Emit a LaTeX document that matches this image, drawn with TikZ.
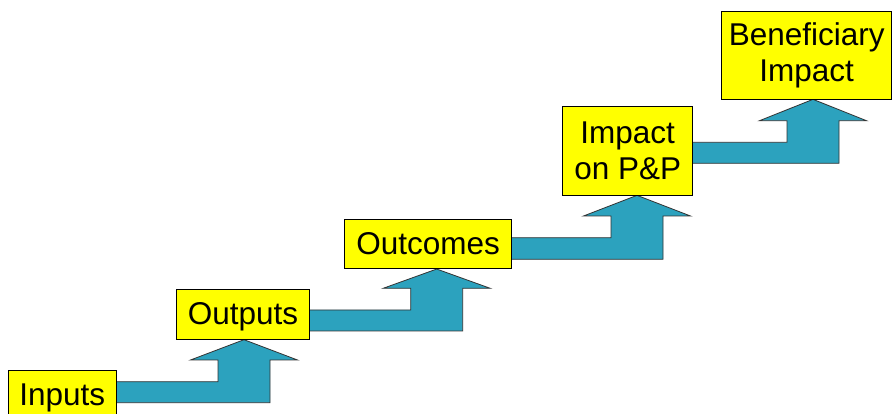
\documentclass[tikz,border=0pt]{standalone}
\usepackage{fontspec}
\setmainfont{Liberation Sans}
\usetikzlibrary{backgrounds,calc}
\definecolor{stairblue}{RGB}{44,162,190}
\definecolor{stageyellow}{RGB}{255,255,0}
\tikzset{
  stage/.style={draw=black, fill=stageyellow, line width=0.8pt, inner sep=0pt,
    align=center, font=\fontsize{31.5}{36.8}\selectfont},
  oneline/.style={text height=23pt, text depth=1.9pt},
  stairarrow/.style={draw=black!80, fill=stairblue, line width=0.8pt, line join=miter}
}
% #1 lower stage, #2 upper stage, #3 shaft centre x, #4 bar top y, #5 bar bottom y, #6 barb y
\newcommand\stairstep[6]{%
  \draw[stairarrow] let \p1=(#1.center), \p2=(#2.south) in
    (\x1,#4pt) -- (#3pt-26pt,#4pt) -- (#3pt-26pt,#6pt) -- (#3pt-53.5pt,#6pt)
    -- (#3pt,\y2) -- (#3pt+53.5pt,#6pt) -- (#3pt+26pt,#6pt) -- (#3pt+26pt,#5pt)
    -- (\x1,#5pt) -- cycle;}
\begin{document}
\begin{tikzpicture}[x=1pt,y=1pt]
  \useasboundingbox (0,0) rectangle (893,414);
  \clip (0,0) rectangle (893,414);
  \node[stage, oneline, minimum width=108.7pt, minimum height=50pt] (inputs) at (62.3,19) {Inputs};
  \node[stage, oneline, minimum width=132.6pt, minimum height=50pt] (outputs) at (243,99.7) {Outputs};
  \node[stage, oneline, minimum width=167pt, minimum height=49.7pt] (outcomes) at (428.2,170.2) {Outcomes};
  \node[stage, minimum width=130pt, minimum height=88.3pt] (impact) at (627.7,263.2) {Impact\\on P\&P};
  \node[stage, minimum width=170pt, minimum height=87.3pt] (benef) at (806.7,358.7) {Beneficiary\\Impact};
  \begin{scope}[on background layer]
    \stairstep{inputs}{outputs}{244}{32.3}{11.3}{54}
    \stairstep{outputs}{outcomes}{436.7}{104}{83}{125.7}
    \stairstep{outcomes}{impact}{637}{176.3}{154.7}{198}
    \stairstep{impact}{benef}{813}{271.7}{250.7}{293.3}
  \end{scope}
\end{tikzpicture}
\end{document}
